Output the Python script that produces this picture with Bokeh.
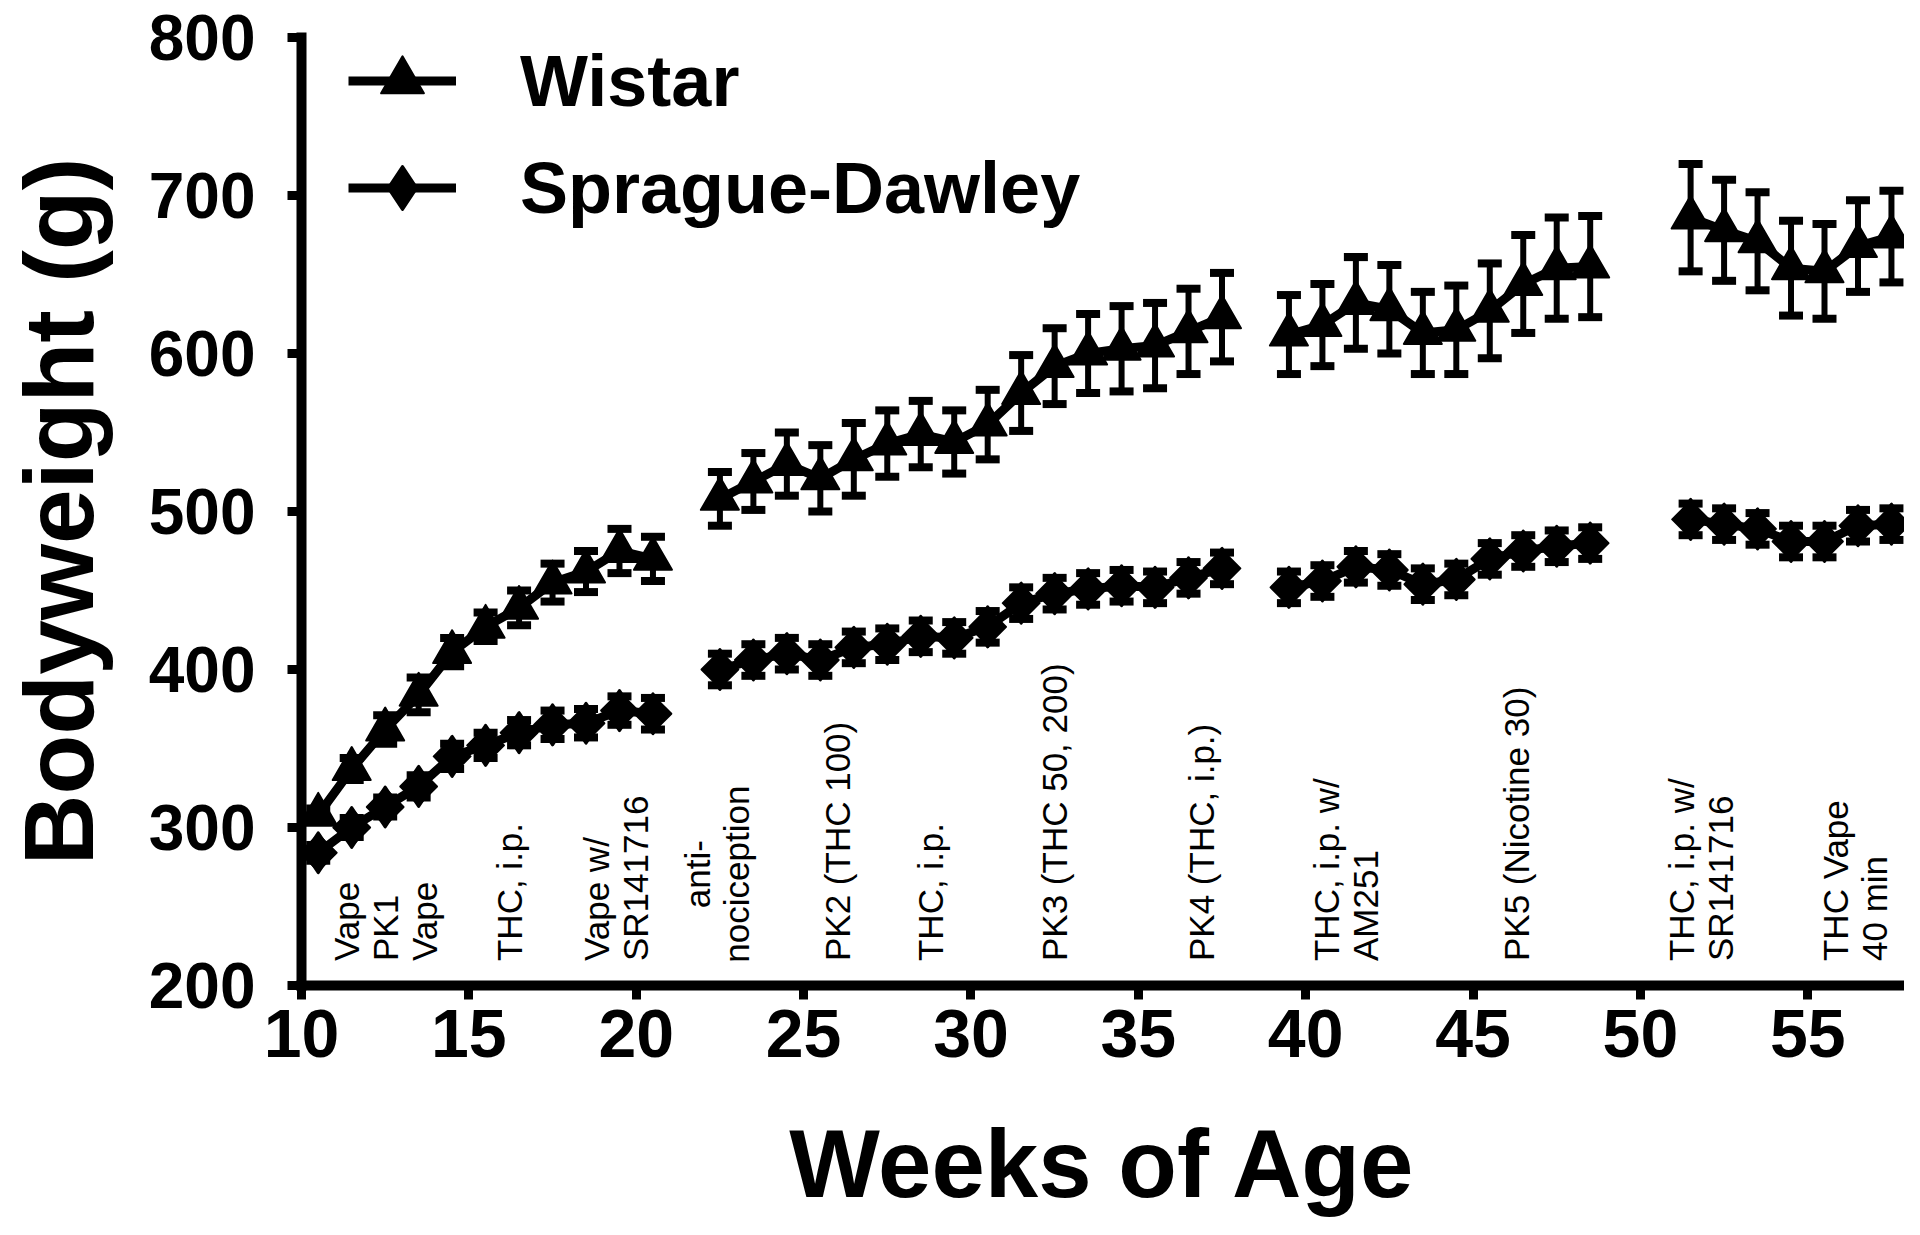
import numpy as np
from bokeh.plotting import figure
from bokeh.models import (Range1d, ColumnDataSource, Whisker, TeeHead, FixedTicker,
                          Legend, LegendItem)
from bokeh.core.properties import value
from bokeh.embed import file_html
from bokeh.resources import INLINE

# ---------------- data ----------------
weeks = [
    [10.5, 11.5, 12.5, 13.5, 14.5, 15.5, 16.5, 17.5, 18.5, 19.5, 20.5],
    [22.5, 23.5, 24.5, 25.5, 26.5, 27.5, 28.5, 29.5, 30.5, 31.5, 32.5, 33.5,
     34.5, 35.5, 36.5, 37.5],
    [39.5, 40.5, 41.5, 42.5, 43.5, 44.5, 45.5, 46.5, 47.5, 48.5],
    [51.5, 52.5, 53.5, 54.5, 55.5, 56.5, 57.5],
]
wistar_mean = [
    [308, 337, 362, 384, 411, 427, 439, 455, 462, 475, 470],
    [508, 519, 530, 521, 533, 543, 549, 544, 555, 575, 592, 600, 603, 605, 614, 623],
    [612, 618, 632, 628, 613, 615, 627, 644, 654, 655],
    [686, 678, 671, 654, 652, 668, 674],
]
wistar_sem = [
    [4, 7, 9, 11, 9, 9, 11, 12, 13, 14, 14],
    [17, 18, 20, 21, 23, 21, 21, 20, 22, 24, 24, 25, 27, 27, 27, 28],
    [25, 26, 29, 28, 26, 28, 30, 31, 32, 32],
    [34, 32, 31, 30, 30, 29, 29],
]
sd_mean = [
    [284, 300, 313, 326, 345, 352, 360, 365, 366, 374, 372],
    [400, 406, 410, 406, 414, 416, 421, 420, 427, 442, 448, 451, 453, 452, 458, 464],
    [452, 456, 465, 463, 454, 457, 470, 475, 478, 480],
    [495, 492, 489, 481, 481, 491, 492],
]
sd_sem = [
    [5, 6, 6, 7, 8, 8, 8, 9, 9, 9, 10],
    [10, 10, 10, 10, 10, 10, 10, 10, 10, 10, 10, 10, 10, 10, 10, 10],
    [10, 10, 10, 10, 10, 10, 10, 10, 10, 10],
    [10, 10, 10, 10, 10, 10, 10],
]
x_ticks = [10, 15, 20, 25, 30, 35, 40, 45, 50, 55]
y_ticks = [200, 300, 400, 500, 600, 700, 800]

ann_weeks = [12.5, 16.2, 19.4, 26.0, 28.8, 32.5, 36.9, 41.2, 46.3, 51.8, 56.4]
ann_text = ["Vape\nPK1\nVape", "THC, i.p.", "Vape w/\nSR141716", "PK2 (THC 100)",
            "THC, i.p.", "PK3 (THC 50, 200)", "PK4 (THC, i.p.)",
            "THC, i.p. w/\nAM251", "PK5 (Nicotine 30)",
            "THC, i.p. w/\nSR141716", "THC Vape\n40 min"]
ann_center_weeks = [22.4]
ann_center_text = ["anti-\nnociception"]

# ---------------- figure ----------------
FONT = "Liberation Sans"
p = figure(width=1904, height=1219, x_range=Range1d(10, 57.89), y_range=Range1d(200, 800),
           output_backend="svg", toolbar_location=None,
           min_border_top=37, min_border_right=0, min_border_left=290,
           min_border_bottom=234)
p.outline_line_color = None
p.grid.visible = False
p.background_fill_color = "white"

def flat(lst):
    return [v for seg in lst for v in seg]

def add_series(mean, sem):
    line_r = p.multi_line(xs=weeks, ys=mean, line_color="black", line_width=9,
                          line_join="round")
    m = np.array(flat(mean), dtype=float)
    s = np.array(flat(sem), dtype=float)
    src = ColumnDataSource(dict(x=flat(weeks), lower=m - s, upper=m + s))
    w = Whisker(source=src, base="x", upper="upper", lower="lower",
                line_color="black", line_width=6,
                upper_head=TeeHead(size=24, line_width=8, line_color="black"),
                lower_head=TeeHead(size=24, line_width=8, line_color="black"))
    p.add_layout(w)
    return line_r

lw = add_series(wistar_mean, wistar_sem)
ls = add_series(sd_mean, sd_sem)

sw = p.scatter(x=flat(weeks), y=flat(wistar_mean), marker="triangle", size=38,
               fill_color="black", line_color="black", line_width=2, line_join="round")
# Sprague-Dawley diamonds: a diamond with a rotated square on top of it
sd_key = p.scatter(x=flat(weeks), y=flat(sd_mean), marker="diamond", size=40,
                   fill_color="black", line_color="black", line_width=3,
                   line_join="round")
ss = p.scatter(x=flat(weeks), y=flat(sd_mean), marker="square", size=26,
               angle=np.pi / 4, fill_color="black", line_color="black",
               line_width=2, line_join="round")

# annotations
ann_base = 215.5
p.text(x=ann_weeks, y=[ann_base] * len(ann_weeks), text=ann_text, angle=np.pi / 2,
       text_align="left", text_baseline="middle", text_font=value(FONT),
       text_font_size="35px", text_line_height=1.0, text_color="black")
p.text(x=ann_center_weeks, y=[270.5], text=ann_center_text, angle=np.pi / 2,
       text_align="center", text_baseline="middle", text_font=value(FONT),
       text_font_size="35px", text_line_height=1.0, text_color="black")

# legend
legend = Legend(items=[LegendItem(label="Wistar", renderers=[lw, sw]),
                       LegendItem(label="Sprague-Dawley", renderers=[ls, sd_key])],
                location=(47, 744), glyph_width=108, glyph_height=107, spacing=0,
                padding=0, margin=0, label_standoff=64,
                label_text_font=FONT, label_text_font_style="bold",
                label_text_font_size="72px", label_text_color="black",
                border_line_color=None, background_fill_alpha=0)
p.add_layout(legend)

# axes
p.xaxis.ticker = FixedTicker(ticks=x_ticks)
p.yaxis.ticker = FixedTicker(ticks=y_ticks)
for ax in (p.xaxis[0], p.yaxis[0]):
    ax.axis_line_width = 10
    ax.axis_line_color = "black"
    ax.axis_line_cap = "square"
    ax.major_tick_line_width = 9
    ax.major_tick_line_color = "black"
    ax.major_tick_out = 14
    ax.major_tick_in = 0
    ax.minor_tick_line_color = None
    ax.major_label_text_font = FONT
    ax.major_label_text_font_style = "bold"
    ax.major_label_text_color = "black"
    ax.axis_label_text_font = FONT
    ax.axis_label_text_font_style = "bold"
    ax.axis_label_text_color = "black"

p.xaxis.axis_label_text_font_size = "96px"
p.yaxis.axis_label_text_font_size = "98px"
p.xaxis.major_label_text_font_size = "68px"
p.yaxis.major_label_text_font_size = "64px"
p.xaxis.major_label_standoff = 10
p.yaxis.major_label_standoff = 32
p.xaxis.axis_label = "Weeks of Age"
p.yaxis.axis_label = "Bodyweight (g)"
p.xaxis.axis_label_standoff = 50
p.yaxis.axis_label_standoff = 32

open("out.html", "w").write(file_html(p, INLINE))
